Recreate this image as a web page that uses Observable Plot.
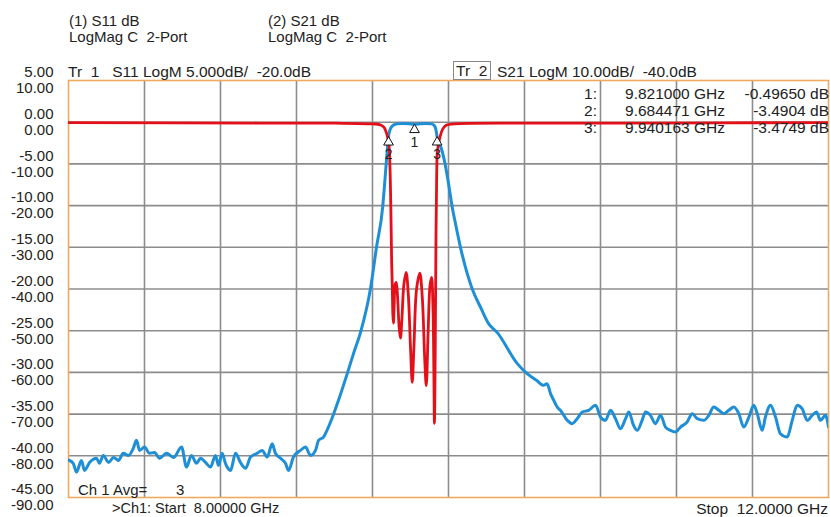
<!DOCTYPE html>
<html><head><meta charset="utf-8">
<script src="https://cdn.jsdelivr.net/npm/d3@7"></script>
<script src="https://cdn.jsdelivr.net/npm/@observablehq/plot@0.6"></script>
<style>
body{margin:0;background:#fff;}
#wrap{position:relative;width:830px;height:517px;font-family:"Liberation Sans",Arial,sans-serif;color:#222;overflow:hidden;}
.t{position:absolute;font-size:15px;white-space:pre;line-height:15px;}
.tr{font-size:15.5px;}
.box{border:1px solid #888;padding:1px 3px 1px 2px;}
</style></head><body><div id="wrap"></div>
<script>
// ---- Data ----
const xTicks = [8.4, 8.8, 9.2, 9.6, 10.0, 10.4, 10.8, 11.2, 11.6];
const yTicks = [10, 0, -10, -20, -30, -40, -50, -60, -70, -80, -90]; // S21 scale (10 dB/div)
const s11PerDiv = 5, s21PerDiv = 10;

// S21 (blue)
const s21Freq = [8.000,8.025,8.042,8.068,8.084,8.111,8.147,8.163,8.183,8.211,8.237,8.263,8.288,8.316,8.341,8.358,8.374,8.400,8.426,8.453,8.479,8.516,8.553,8.595,8.621,8.647,8.674,8.695,8.721,8.747,8.774,8.789,8.809,8.826,8.853,8.879,8.905,8.932,8.958,8.993,9.019,9.046,9.072,9.089,9.116,9.142,9.158,9.184,9.221,9.247,9.274,9.300,9.316,9.342,9.368,9.396,9.421,9.467,9.500,9.537,9.589,9.621,9.654,9.664,9.672,9.679,9.684,9.694,9.710,9.730,9.760,9.790,9.821,9.850,9.880,9.910,9.925,9.933,9.940,9.966,9.982,10.000,10.019,10.039,10.063,10.125,10.170,10.211,10.256,10.362,10.414,10.463,10.500,10.519,10.537,10.554,10.572,10.589,10.625,10.651,10.677,10.704,10.737,10.774,10.800,10.826,10.853,10.879,10.905,10.932,10.949,10.974,10.993,11.019,11.037,11.063,11.089,11.116,11.142,11.168,11.195,11.221,11.256,11.283,11.309,11.344,11.370,11.396,11.423,11.449,11.475,11.502,11.528,11.554,11.581,11.607,11.625,11.651,11.668,11.695,11.721,11.747,11.783,11.809,11.835,11.861,11.888,11.914,11.937,11.958,11.984,12.000];
const s21Db = [-81.0,-81.8,-83.9,-81.1,-83.5,-81.6,-80.6,-81.8,-79.9,-81.6,-80.4,-81.1,-79.4,-79.9,-78.2,-76.3,-78.7,-77.9,-79.4,-79.2,-80.6,-79.4,-80.4,-77.9,-82.7,-79.9,-81.8,-80.6,-81.6,-82.7,-79.9,-82.3,-79.4,-81.8,-83.5,-79.4,-81.6,-83.0,-80.3,-79.4,-78.7,-80.3,-77.1,-79.4,-80.6,-81.8,-83.5,-80.3,-78.7,-77.9,-79.9,-78.7,-76.3,-75.5,-73.1,-69.9,-66.7,-60.3,-55.5,-50.4,-40.0,-30.0,-20.2,-14.7,-10.0,-6.0,-3.5,-1.6,-0.7,-0.4,-0.3,-0.35,-0.5,-0.4,-0.3,-0.4,-0.8,-1.6,-3.5,-6.8,-10.0,-14.7,-20.2,-24.8,-30.0,-40.0,-44.5,-48.3,-50.4,-57.9,-60.3,-61.9,-63.1,-62.7,-65.1,-66.7,-68.3,-69.1,-71.5,-72.3,-71.1,-69.5,-69.1,-67.9,-70.7,-71.5,-69.1,-71.1,-73.5,-71.1,-69.5,-72.7,-73.9,-71.5,-69.5,-70.3,-72.3,-70.3,-73.1,-73.9,-74.3,-73.1,-71.9,-69.9,-71.1,-71.5,-70.3,-68.3,-69.1,-69.9,-69.1,-68.3,-69.9,-73.1,-70.7,-67.9,-69.9,-73.9,-70.7,-67.9,-70.7,-74.7,-75.5,-71.5,-67.9,-68.7,-71.5,-70.3,-69.5,-71.5,-70.3,-73.1];

// S11 (red)
const s11Freq = [8.0,9.0,9.4,9.6,9.64,9.66,9.675,9.686,9.692,9.697,9.701,9.704,9.707,9.710,9.714,9.719,9.725,9.732,9.740,9.747,9.755,9.765,9.777,9.788,9.800,9.809,9.818,9.832,9.849,9.862,9.875,9.883,9.893,9.903,9.911,9.918,9.923,9.926,9.930,9.934,9.938,9.942,9.955,9.970,9.990,10.03,10.5,11.0,12.0];
const s11Db = [-0.05,-0.1,-0.12,-0.2,-0.3,-0.6,-1.4,-2.6,-5.4,-11,-17,-19.5,-23,-24.1,-22,-19.5,-19.2,-21,-24.5,-25.9,-23.5,-19.5,-18.0,-20.5,-27,-31.2,-27,-20,-18.1,-21,-28.5,-31.6,-25,-19.5,-18.6,-22,-30,-36.1,-28,-14,-6,-3.4,-1.8,-0.8,-0.35,-0.2,-0.12,-0.1,-0.05];

// Markers on S21
const markerIds = ["1", "2", "3"];
const markerFreq = [9.821000, 9.684471, 9.940163];
const markerDb = [-0.49650, -3.4904, -3.4749];

// ---- Build ----
const s21 = s21Freq.map((f, i) => ({f, db: s21Db[i]}));
const s11 = s11Freq.map((f, i) => ({f, db: s11Db[i]}));
const markers = markerIds.map((id, i) => ({id, f: markerFreq[i], db: markerDb[i]}));
const s11ToAxis = d => d.db / s11PerDiv * s21PerDiv;

const chart = Plot.plot({
  width: 830, height: 517,
  marginLeft: 68, marginRight: 2, marginTop: 80, marginBottom: 20,
  style: {fontFamily: "Liberation Sans, Arial, sans-serif", fontSize: "15px", color: "#222", background: "#fff"},
  x: {domain: [8, 12], axis: null},
  y: {domain: [-90, 10]},
  marks: [
    Plot.ruleX(xTicks, {stroke: "#8c8c8c", strokeWidth: 1.6}),
    Plot.ruleY(yTicks.slice(1, -1), {stroke: "#8c8c8c", strokeWidth: 1.6}),
    Plot.frame({stroke: "#f0aa60", strokeWidth: 1.6}),
    Plot.axisY(yTicks, {label: null, tickSize: 0, tickPadding: 15, dy: -8, fontSize: 15, fill: "#222",
      tickFormat: d => (d / s21PerDiv * s11PerDiv).toFixed(2)}),
    Plot.axisY(yTicks, {label: null, tickSize: 0, tickPadding: 15, dy: 8, fontSize: 15, fill: "#222",
      tickFormat: d => d.toFixed(2)}),
    Plot.line(s21, {x: "f", y: "db", stroke: "#1e8fd6", strokeWidth: 3, curve: "monotone-x", clip: true}),
    Plot.line(s11, {x: "f", y: s11ToAxis, stroke: "#e3101a", strokeWidth: 2.8, curve: "catmull-rom", clip: true}),
    Plot.dot(markers, {x: "f", y: "db", symbol: "triangle", r: 3.6, dy: 5.5, fill: "white", stroke: "#111", strokeWidth: 1}),
    Plot.text(markers, {x: "f", y: "db", text: "id", dy: 18, fontSize: 14, fill: "#222"})
  ]
});
const wrap = document.getElementById("wrap");
wrap.appendChild(chart);
chart.style.position = "absolute"; chart.style.left = "0"; chart.style.top = "0";

// ---- Annotations (real text) ----
const labels = [
  {t: "(1) S11 dB", l: 69, top: 13},
  {t: "LogMag C  2-Port", l: 69, top: 29},
  {t: "(2) S21 dB", l: 268, top: 13},
  {t: "LogMag C  2-Port", l: 268, top: 29},
  {t: "Tr  1   S11 LogM 5.000dB/  -20.0dB", l: 68, top: 64, c: "tr"},
  {t: "S21 LogM 10.00dB/  -40.0dB", l: 497, top: 64, c: "tr"},
  {t: "Ch 1 Avg=", l: 78, top: 482},
  {t: "3", l: 176, top: 482},
  {t: ">Ch1: Start  8.00000 GHz", l: 112, top: 501, s: 14.5}
];
const rightLabels = [
  {t: "Stop  12.0000 GHz", r: 2, top: 501},
  {t: "1:", r: 233, top: 86}, {t: "9.821000 GHz", r: 105, top: 86}, {t: "-0.49650 dB", r: 1, top: 86},
  {t: "2:", r: 233, top: 103}, {t: "9.684471 GHz", r: 105, top: 103}, {t: "-3.4904 dB", r: 1, top: 103},
  {t: "3:", r: 233, top: 120}, {t: "9.940163 GHz", r: 105, top: 120}, {t: "-3.4749 dB", r: 1, top: 120}
];
for (const d of labels) {
  const e = document.createElement("div"); e.className = "t " + (d.c || ""); e.textContent = d.t;
  e.style.left = d.l + "px"; e.style.top = d.top + "px";
  if (d.s) e.style.fontSize = d.s + "px";
  wrap.appendChild(e);
}
for (const d of rightLabels) {
  const e = document.createElement("div"); e.className = "t tr"; e.textContent = d.t;
  e.style.right = d.r + "px"; e.style.top = d.top + "px"; e.style.textAlign = "right"; wrap.appendChild(e);
}
const box = document.createElement("div"); box.className = "t tr box"; box.textContent = "Tr  2";
box.style.left = "453px"; box.style.top = "61px"; wrap.appendChild(box);
</script>
</body></html>
